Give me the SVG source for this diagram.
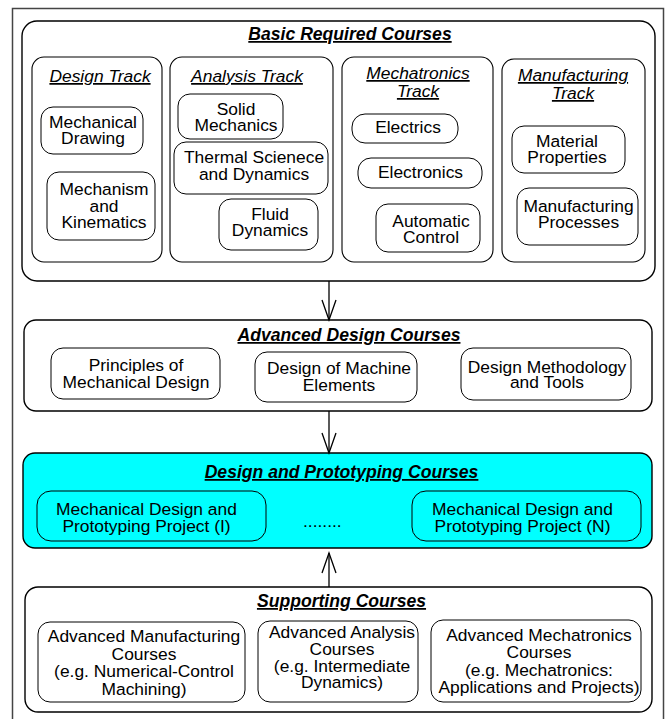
<svg xmlns="http://www.w3.org/2000/svg" width="667" height="719" viewBox="0 0 667 719">
<defs>
<style>
.frame{fill:none;stroke:#444;stroke-width:1.5}
.box{fill:#fff;stroke:#000;stroke-width:1.4}
.track-box{fill:#fff;stroke:#000;stroke-width:1.1}
.node{fill:#fff;stroke:#000;stroke-width:1}
.cyan{fill:#00FFFF}
text{font-family:"Liberation Sans",Arial,sans-serif;font-size:17.4px;fill:#000;text-anchor:middle}
.title{font-weight:bold;font-style:italic;text-decoration:underline;font-size:17.6px}
.track{font-style:italic;text-decoration:underline}
.conn{stroke:#000;stroke-width:1.3;fill:none}
.head{stroke:#000;stroke-width:1.3;fill:none}
</style>
<marker id="v" markerUnits="userSpaceOnUse" markerWidth="24" markerHeight="18" viewBox="0 0 24 18" refX="21" refY="8" orient="auto">
<path class="head" d="M1,1 L21,8 L1,15"/>
</marker>
</defs>
<rect width="667" height="719" fill="#fff"/>
<rect class="frame" x="12.5" y="8.5" width="651" height="730"/>

<g id="basic">
<rect class="box" x="22" y="21" width="633" height="260" rx="15"/>
<text class="title" x="350" y="40">Basic Required Courses</text>
</g>
<g id="design-track">
<rect class="track-box" x="32" y="57" width="130" height="205" rx="12"/>
<text class="track" x="100" y="82">Design Track</text>
</g>
<g id="mech-drawing">
<rect class="node" x="41" y="107" width="102" height="47" rx="12"/>
<text x="93" y="128">Mechanical</text>
<text x="93" y="144">Drawing</text>
</g>
<g id="mechanism">
<rect class="node" x="47" y="172" width="108" height="68" rx="12"/>
<text x="104" y="195">Mechanism</text>
<text x="104" y="212">and</text>
<text x="104" y="228">Kinematics</text>
</g>
<g id="analysis-track">
<rect class="track-box" x="170" y="57" width="163" height="205" rx="12"/>
<text class="track" x="247" y="82">Analysis Track</text>
</g>
<g id="solid">
<rect class="node" x="178" y="94" width="105" height="45" rx="12"/>
<text x="236" y="115">Solid</text>
<text x="236" y="131">Mechanics</text>
</g>
<g id="thermal">
<rect class="node" x="174" y="142" width="154" height="52" rx="12"/>
<text x="254" y="163">Thermal Scienece</text>
<text x="254" y="180">and Dynamics</text>
</g>
<g id="fluid">
<rect class="node" x="219" y="199" width="99" height="51" rx="12"/>
<text x="270" y="220">Fluid</text>
<text x="270" y="236">Dynamics</text>
</g>
<g id="mechatronics-track">
<rect class="track-box" x="342" y="57" width="151" height="205" rx="12"/>
<text class="track" x="418" y="79">Mechatronics</text>
<text class="track" x="418" y="97">Track</text>
</g>
<g id="electrics">
<rect class="node" x="352" y="114" width="106" height="29" rx="13"/>
<text x="408" y="133">Electrics</text>
</g>
<g id="electronics">
<rect class="node" x="358" y="158" width="124" height="30" rx="13"/>
<text x="420.5" y="178">Electronics</text>
</g>
<g id="automatic">
<rect class="node" x="376" y="204" width="104" height="48" rx="12"/>
<text x="431" y="227">Automatic</text>
<text x="431" y="243">Control</text>
</g>
<g id="manufacturing-track">
<rect class="track-box" x="502" y="59" width="143" height="203" rx="12"/>
<text class="track" x="573" y="81">Manufacturing</text>
<text class="track" x="573" y="99">Track</text>
</g>
<g id="material">
<rect class="node" x="512" y="126" width="113" height="47" rx="12"/>
<text x="567" y="147">Material</text>
<text x="567" y="163">Properties</text>
</g>
<g id="mfg-processes">
<rect class="node" x="517" y="188" width="121" height="57" rx="12"/>
<text x="578.5" y="212">Manufacturing</text>
<text x="578.5" y="228">Processes</text>
</g>

<g id="advanced">
<rect class="box" x="24" y="320" width="628" height="91" rx="12"/>
<text class="title" x="349" y="341">Advanced Design Courses</text>
</g>
<g id="principles">
<rect class="node" x="51" y="348" width="169" height="51" rx="12"/>
<text x="136" y="371">Principles of</text>
<text x="136" y="388">Mechanical Design</text>
</g>
<g id="machine-elements">
<rect class="node" x="255" y="352" width="162" height="50" rx="12"/>
<text x="339" y="374">Design of Machine</text>
<text x="339" y="391">Elements</text>
</g>
<g id="methodology">
<rect class="node" x="461" y="348" width="170" height="52" rx="12"/>
<text x="547" y="373">Design Methodology</text>
<text x="547" y="388">and Tools</text>
</g>

<g id="prototyping">
<rect class="box cyan" x="23" y="453" width="629" height="95" rx="12"/>
<text class="title" x="341.5" y="478">Design and Prototyping Courses</text>
<text x="303" y="527" style="text-anchor:start">........</text>
</g>
<g id="project-1">
<rect class="node cyan" x="37" y="491" width="229" height="50" rx="14"/>
<text x="146.5" y="515">Mechanical Design and</text>
<text x="146.5" y="532">Prototyping Project (I)</text>
</g>
<g id="project-n">
<rect class="node cyan" x="412" y="491" width="229" height="50" rx="14"/>
<text x="522.5" y="515">Mechanical Design and</text>
<text x="522.5" y="532">Prototyping Project (N)</text>
</g>

<g id="supporting">
<rect class="box" x="25" y="587" width="627" height="125" rx="13"/>
<text class="title" x="341.5" y="607">Supporting Courses</text>
</g>
<g id="adv-mfg">
<rect class="node" x="38" y="622" width="207" height="80" rx="12"/>
<text x="144" y="642">Advanced Manufacturing</text>
<text x="144" y="659.5">Courses</text>
<text x="144" y="677">(e.g. Numerical-Control</text>
<text x="144" y="694.5">Machining)</text>
</g>
<g id="adv-analysis">
<rect class="node" x="258" y="621" width="160" height="81" rx="12"/>
<text x="342" y="638">Advanced Analysis</text>
<text x="342" y="655">Courses</text>
<text x="342" y="672">(e.g. Intermediate</text>
<text x="342" y="688">Dynamics)</text>
</g>
<g id="adv-mechatronics">
<rect class="node" x="431" y="620" width="210" height="82" rx="12"/>
<text x="539" y="641">Advanced Mechatronics</text>
<text x="539" y="658">Courses</text>
<text x="539" y="676">(e.g. Mechatronics:</text>
<text x="539" y="693">Applications and Projects)</text>
</g>

<g id="connectors">
<line class="conn" x1="329" y1="281" x2="329" y2="320" marker-end="url(#v)"/>
<line class="conn" x1="329" y1="411" x2="329" y2="453" marker-end="url(#v)"/>
<line class="conn" x1="329" y1="587" x2="329" y2="553" marker-end="url(#v)"/>
</g>
</svg>
